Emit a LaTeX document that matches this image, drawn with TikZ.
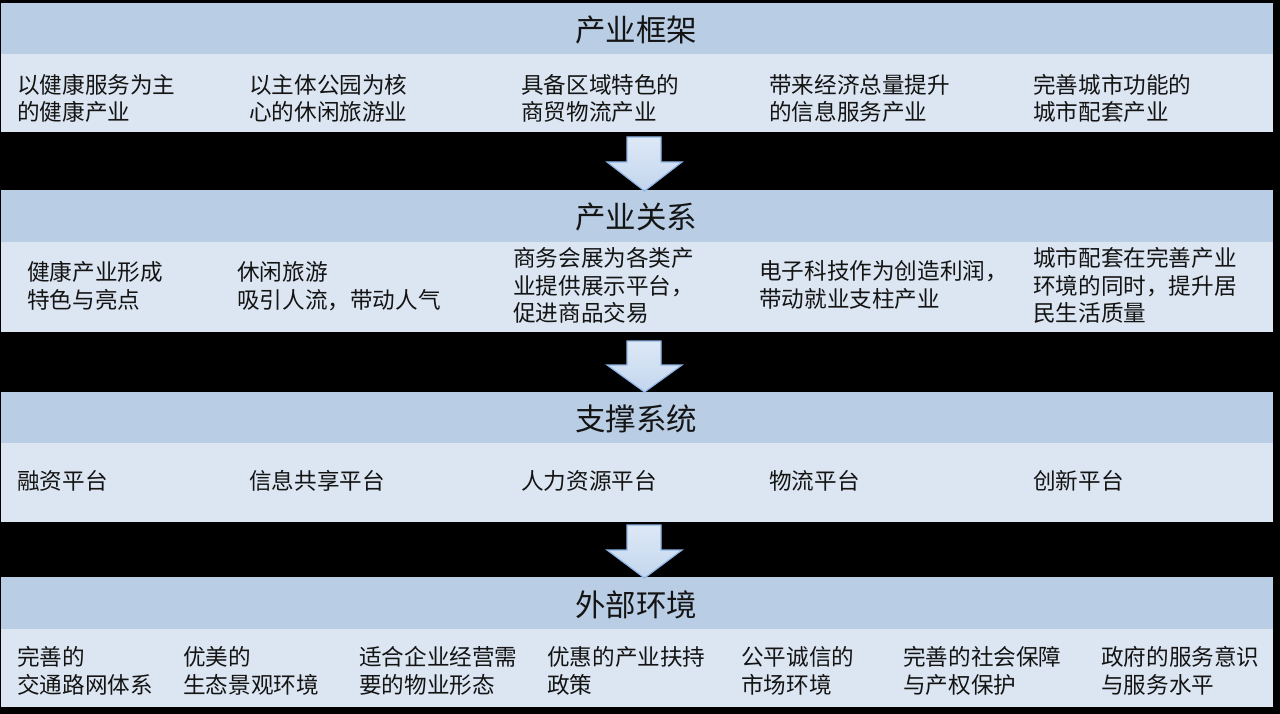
\documentclass[tikz,border=0pt]{standalone}
\usepackage{fontspec}
\newfontfamily\cjk{Noto Sans CJK SC}
\definecolor{hdr}{HTML}{B9CDE5}
\definecolor{bdy}{HTML}{DCE6F2}
\definecolor{txt}{HTML}{141414}
\definecolor{arrline}{HTML}{8EB4E3}
\definecolor{arrtop}{HTML}{DDE8F6}
\definecolor{arrbot}{HTML}{C3D6EE}
\tikzset{
  hdrbox/.style={fill=hdr, draw=none},
  bdybox/.style={fill=bdy, draw=none},
  title/.style={font=\cjk\fontsize{30.5}{32}\selectfont, text=txt, inner sep=0pt},
  item/.style={font=\cjk\fontsize{22.6}{27.5}\selectfont, text=txt, inner sep=0pt, anchor=west, align=left},
  blockarrow/.style={draw=arrline, line width=1.2pt, line join=miter, top color=arrtop, bottom color=arrbot}
}
\begin{document}
\begin{tikzpicture}[x=1pt,y=-1pt]
\fill[black] (0,0) rectangle (1280,714);
\useasboundingbox (0,0) rectangle (1280,714);
% panels
\path[hdrbox] (1,3) rectangle (1273,54);
\path[bdybox] (1,54) rectangle (1273,132);
\path[hdrbox] (1,190) rectangle (1273,242);
\path[bdybox] (1,242) rectangle (1273,332);
\path[hdrbox] (1,392) rectangle (1273,443);
\path[bdybox] (1,443) rectangle (1273,522);
\path[hdrbox] (1,577) rectangle (1273,629);
\path[bdybox] (1,629) rectangle (1273,707);
% arrows
\path[blockarrow] (627,137) -- (661,137) -- (661,162) -- (682,162) -- (644.5,191) -- (607,162) -- (627,162) -- cycle;
\path[blockarrow] (627,341) -- (661,341) -- (661,365) -- (682,365) -- (644.5,392) -- (607,365) -- (627,365) -- cycle;
\path[blockarrow] (627,525) -- (661,525) -- (661,550) -- (682,550) -- (644.5,578) -- (607,550) -- (627,550) -- cycle;
% titles
\node[title] (t1) at (636,30) {产业框架};
\node[title] (t2) at (636,217) {产业关系};
\node[title] (t3) at (636,419) {支撑系统};
\node[title] (t4) at (636,605) {外部环境};
% panel 1
\node[item] (a1) at (17,98.5) {以健康服务为主\\的健康产业};
\node[item] (a2) at (249,98.5) {以主体公园为核\\心的休闲旅游业};
\node[item] (a3) at (521,98.5) {具备区域特色的\\商贸物流产业};
\node[item] (a4) at (769,98.5) {带来经济总量提升\\的信息服务产业};
\node[item] (a5) at (1033,98.5) {完善城市功能的\\城市配套产业};
% panel 2
\node[item] (b1) at (27,286) {健康产业形成\\特色与亮点};
\node[item] (b2) at (237,286) {休闲旅游\\吸引人流，带动人气};
\node[item] (b3) at (513,285.5) {商务会展为各类产\\业提供展示平台，\\促进商品交易};
\node[item] (b4) at (759,285) {电子科技作为创造利润，\\带动就业支柱产业};
\node[item] (b5) at (1033,285.5) {城市配套在完善产业\\环境的同时，提升居\\民生活质量};
% panel 3
\node[item] (c1) at (17,481) {融资平台};
\node[item] (c2) at (249,481) {信息共享平台};
\node[item] (c3) at (521,481) {人力资源平台};
\node[item] (c4) at (769,481) {物流平台};
\node[item] (c5) at (1033,481) {创新平台};
% panel 4
\node[item] (d1) at (17,671) {完善的\\交通路网体系};
\node[item] (d2) at (183,671) {优美的\\生态景观环境};
\node[item] (d3) at (359,671) {适合企业经营需\\要的物业形态};
\node[item] (d4) at (547,671) {优惠的产业扶持\\政策};
\node[item] (d5) at (741,671) {公平诚信的\\市场环境};
\node[item] (d6) at (903,671) {完善的社会保障\\与产权保护};
\node[item] (d7) at (1101,671) {政府的服务意识\\与服务水平};
\end{tikzpicture}
\end{document}
